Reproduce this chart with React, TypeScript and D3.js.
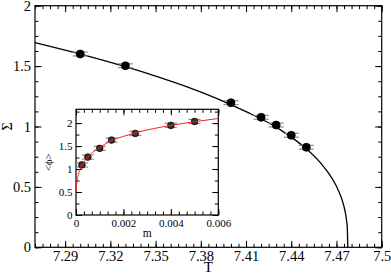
import React, { useEffect, useRef } from "react";
import * as d3 from "d3";

// main panel: Sigma against T, points with (tiny) vertical error bars
const tempT = [7.3, 7.33, 7.4, 7.42, 7.43, 7.44, 7.45];
const sigma = [1.6, 1.503, 1.197, 1.076, 1.012, 0.927, 0.828];
const sigmaErr = [0.016, 0.016, 0.016, 0.016, 0.016, 0.016, 0.016];

// fitted line, values
const fitT = [7.27, 7.29, 7.31, 7.33, 7.35, 7.37, 7.39, 7.41, 7.43, 7.44, 7.45, 7.46, 7.465, 7.47, 7.473, 7.475, 7.4765, 7.4772, 7.4775];
const fitSigma = [1.694, 1.632, 1.566, 1.495, 1.417, 1.332, 1.235, 1.123, 0.995, 0.912, 0.815, 0.69, 0.61, 0.505, 0.418, 0.336, 0.24, 0.155, 0];

const xTicks = [7.29, 7.32, 7.35, 7.38, 7.41, 7.44, 7.47, 7.5];
const yTicks = [0, 0.5, 1, 1.5, 2];

// inset: <phi> against m
const insetM = [0.00025, 0.0005, 0.001, 0.0015, 0.0025, 0.004, 0.005];
const insetPhi = [1.09, 1.26, 1.45, 1.63, 1.775, 1.95, 2.035];
const insetErr = [0.045, 0.045, 0.045, 0.045, 0.045, 0.045, 0.045];

const insetFitM = [0.00001, 0.00003, 0.0001, 0.0002, 0.0004, 0.0007, 0.001, 0.0015, 0.002, 0.003, 0.004, 0.005, 0.006];
const insetFitPhi = [0.5, 0.68, 0.88, 1.03, 1.2, 1.36, 1.47, 1.62, 1.71, 1.85, 1.95, 2.03, 2.1];

const insetXTicks = [0, 0.002, 0.004, 0.006];
const insetYTicks = [0, 0.5, 1, 1.5, 2];

const FONT = '"Liberation Serif", "Times New Roman", "DejaVu Serif", serif';

// one side of the frame: ticks point inward, labels optional
const addAxis = (svg, axis, translate, values, size, labels, pad, fontSize) => {
  const g = svg
    .append("g")
    .attr("transform", translate)
    .call(
      axis
        .tickValues(values)
        .tickSize(-size)
        .tickSizeOuter(0)
        .tickPadding(pad)
        .tickFormat(labels ? (d) => String(d) : () => "")
    );
  g.select(".domain").remove();
  g.attr("font-family", null).attr("font-size", null);
  g.style("font-family", FONT).style("font-size", fontSize + "px");
  g.selectAll("line").attr("stroke", "#000").attr("stroke-width", 1);
  g.selectAll("text").attr("fill", "#000");
};

const drawFrame = (svg, x, y, o) => {
  const [xl, xr] = x.range();
  const [yb, yt] = y.range();
  svg
    .append("rect")
    .attr("x", xl)
    .attr("y", yt)
    .attr("width", xr - xl)
    .attr("height", yb - yt)
    .attr("fill", o.fill)
    .attr("stroke", "#000")
    .attr("stroke-width", 1.2);
  addAxis(svg, d3.axisBottom(x), `translate(0,${yb})`, o.xMinor, o.minor, false, 0, o.fs);
  addAxis(svg, d3.axisBottom(x), `translate(0,${yb})`, o.xMajor, o.major, true, o.xPad, o.fs);
  addAxis(svg, d3.axisTop(x), `translate(0,${yt})`, o.xMinor, o.minor, false, 0, o.fs);
  addAxis(svg, d3.axisTop(x), `translate(0,${yt})`, o.xMajor, o.major, false, 0, o.fs);
  addAxis(svg, d3.axisLeft(y), `translate(${xl},0)`, o.yMinor, o.minor, false, 0, o.fs);
  addAxis(svg, d3.axisLeft(y), `translate(${xl},0)`, o.yMajor, o.major, true, o.yPad, o.fs);
  addAxis(svg, d3.axisRight(y), `translate(${xr},0)`, o.yMinor, o.minor, false, 0, o.fs);
  addAxis(svg, d3.axisRight(y), `translate(${xr},0)`, o.yMajor, o.major, false, 0, o.fs);
};

const drawPoints = (svg, x, y, xs, ys, errs, capW, r, fill) => {
  const pts = xs.map((v, i) => ({ v, s: ys[i], e: errs[i] }));
  const eb = svg.append("g").attr("stroke", "#8c8c8c").attr("stroke-width", 1.2);
  pts.forEach((p) => {
    const cx = x(p.v);
    eb.append("line").attr("x1", cx).attr("x2", cx).attr("y1", y(p.s - p.e)).attr("y2", y(p.s + p.e));
    [p.s - p.e, p.s + p.e].forEach((val) =>
      eb.append("line").attr("x1", cx - capW).attr("x2", cx + capW).attr("y1", y(val)).attr("y2", y(val))
    );
  });
  svg
    .append("g")
    .selectAll("circle")
    .data(pts)
    .enter()
    .append("circle")
    .attr("cx", (p) => x(p.v))
    .attr("cy", (p) => y(p.s))
    .attr("r", r)
    .attr("fill", fill)
    .attr("stroke", "#000")
    .attr("stroke-width", 0.8);
};

const addLabel = (svg, transform, size, text) =>
  svg
    .append("text")
    .attr("transform", transform)
    .attr("text-anchor", "middle")
    .style("font-family", FONT)
    .style("font-size", size + "px")
    .text(text);

const App = () => {
  const ref = useRef(null);

  useEffect(() => {
    const svg = d3.select(ref.current);
    svg.selectAll("*").remove();

    // main panel
    const x = d3.scaleLinear().domain([7.27, 7.5]).range([35, 381.7]);
    const y = d3.scaleLinear().domain([0, 2]).range([247.3, 5.7]);

    drawFrame(svg, x, y, {
      fill: "#fff",
      xMajor: xTicks,
      xMinor: d3.range(7.27, 7.5001, 0.005),
      yMajor: yTicks,
      yMinor: d3.range(0, 2.001, 0.125),
      major: 6.5,
      minor: 3.5,
      xPad: 3.5,
      yPad: 4,
      fs: 14.5,
    });

    const line = d3
      .line()
      .x((d) => x(d[0]))
      .y((d) => y(d[1]))
      .curve(d3.curveMonotoneX);
    svg
      .append("path")
      .attr("d", line(fitT.map((t, i) => [t, fitSigma[i]])))
      .attr("fill", "none")
      .attr("stroke", "#000")
      .attr("stroke-width", 1.3);

    drawPoints(svg, x, y, tempT, sigma, sigmaErr, 7.5, 4, "#000");

    addLabel(svg, `translate(${(35 + 381.7) / 2},272)`, 15, "T");
    addLabel(svg, `translate(11.5,126.5) rotate(-90)`, 14, "Σ");

    // inset
    const ix = d3.scaleLinear().domain([0, 0.006]).range([76, 218.3]);
    const iy = d3.scaleLinear().domain([0, 2.3]).range([215, 109.3]);

    drawFrame(svg, ix, iy, {
      fill: "#fff",
      xMajor: insetXTicks,
      xMinor: d3.range(0, 0.00601, 0.002 / 6),
      yMajor: insetYTicks,
      yMinor: d3.range(0, 2.301, 0.25),
      major: 6,
      minor: 3.5,
      xPad: 3.9,
      yPad: 3.5,
      fs: 11,
    });

    drawPoints(svg, ix, iy, insetM, insetPhi, insetErr, 6, 3.3, "#333");

    const iline = d3
      .line()
      .x((d) => ix(d[0]))
      .y((d) => iy(d[1]))
      .curve(d3.curveMonotoneX);
    svg
      .append("path")
      .attr("d", iline(insetFitM.map((m, i) => [m, insetFitPhi[i]])))
      .attr("fill", "none")
      .attr("stroke", "#ff2020")
      .attr("stroke-width", 1);

    addLabel(svg, `translate(${(76 + 218.3) / 2},236.5)`, 11.5, "m");
    addLabel(svg, `translate(52,162.2) rotate(-90)`, 10.5, "<ϕ>");
  }, []);

  return (
    <svg
      ref={ref}
      width={391}
      height={276}
      style={{ position: "absolute", left: 0, top: 0, background: "#fff" }}
    />
  );
};

export default App;
